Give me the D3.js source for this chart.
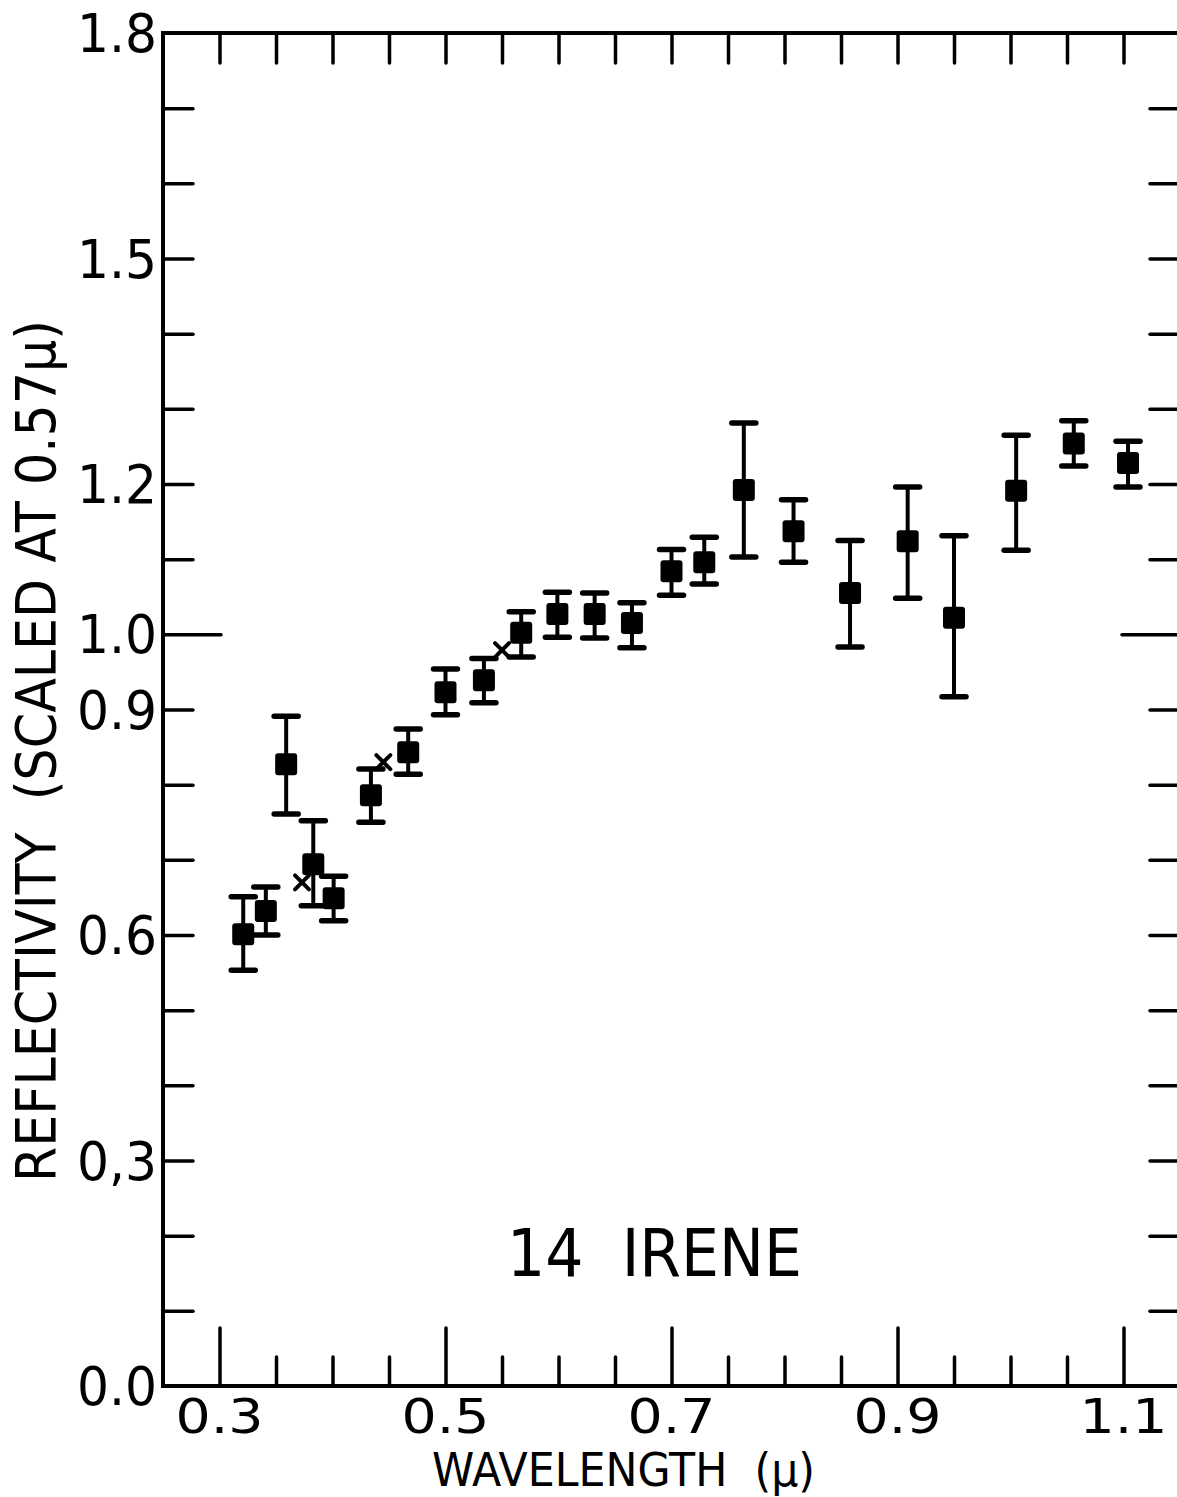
<!DOCTYPE html>
<html>
<head>
<meta charset="utf-8">
<script src="https://cdn.jsdelivr.net/npm/d3@7"></script>
<style>
  html, body { margin: 0; padding: 0; background: #fff; }
  svg { display: block; }
  text { font-family: "DejaVu Sans", sans-serif; fill: #000; white-space: pre; }
</style>
</head>
<body>
<script>
// ---- data ----
const wavelength   = [0.321, 0.341, 0.359, 0.383, 0.401, 0.434, 0.467, 0.500, 0.534, 0.567, 0.599, 0.632, 0.665, 0.700, 0.729, 0.764, 0.808, 0.858, 0.909, 0.950, 1.005, 1.056, 1.104];
const reflectivity = [0.601, 0.632, 0.827, 0.694, 0.649, 0.786, 0.843, 0.923, 0.939, 1.002, 1.027, 1.027, 1.015, 1.084, 1.096, 1.192, 1.137, 1.055, 1.124, 1.022, 1.191, 1.254, 1.228];
const errHigh      = [0.651, 0.664, 0.891, 0.752, 0.678, 0.821, 0.874, 0.954, 0.968, 1.030, 1.056, 1.055, 1.042, 1.113, 1.129, 1.281, 1.179, 1.125, 1.196, 1.131, 1.265, 1.284, 1.257];
const errLow       = [0.553, 0.600, 0.761, 0.639, 0.619, 0.750, 0.814, 0.893, 0.909, 0.970, 0.996, 0.995, 0.982, 1.052, 1.067, 1.103, 1.096, 0.983, 1.048, 0.917, 1.112, 1.224, 1.196];
const crossWavelength   = [0.373, 0.445, 0.550];
const crossReflectivity = [0.670, 0.830, 0.979];

const yTickValues = [1.8, 1.5, 1.2, 1.0, 0.9, 0.6, 0.3, 0.0];
const yTickLabels = ["1.8", "1.5", "1.2", "1.0", "0.9", "0.6", "0,3", "0.0"];
const xTickValues = [0.3, 0.5, 0.7, 0.9, 1.1];
const xTickLabels = ["0.3", "0.5", "0.7", "0.9", "1.1"];
const xMinorTicks = d3.range(0, 17).map(i => +(0.3 + i * 0.05).toFixed(3));
const yMinorTicks = d3.range(1, 18).map(i => +(i * 0.1).toFixed(2));

const chartTitle = "14  IRENE";
const xTitle = "WAVELENGTH  (\u03bc)";
const yTitle = "REFLECTIVITY  (SCALED AT 0.57\u03bc)";

// ---- layout ----
const W = 1177, H = 1497;
const mLeft = 163, mRight = 1180, mTop = 33, mBottom = 1386;

const x = d3.scaleLinear().domain([0.25, 1.15]).range([mLeft, mRight]);
const y = d3.scaleLinear().domain([0, 1.8]).range([mBottom, mTop]);

const svg = d3.select("body").append("svg").attr("width", W).attr("height", H);

// frame
svg.append("rect")
  .attr("x", mLeft).attr("y", mTop)
  .attr("width", mRight - mLeft).attr("height", mBottom - mTop)
  .attr("fill", "none").attr("stroke", "#000").attr("stroke-width", 4);

function styleAxis(g) {
  g.select(".domain").remove();
  g.selectAll(".tick line").attr("stroke", "#000").attr("stroke-width", 3.5).attr("stroke-linecap", "round");
  g.selectAll(".tick text").remove();
}

// left ticks (inward)
svg.append("g").attr("transform", `translate(${mLeft},0)`)
  .call(d3.axisRight(y).tickValues(yMinorTicks).tickSize(30).tickFormat(""))
  .call(styleAxis)
  .selectAll(".tick line").attr("x2", d => Math.abs(d - 1.0) < 1e-6 ? 58 : 30);

// right ticks (inward)
svg.append("g").attr("transform", `translate(${mRight},0)`)
  .call(d3.axisLeft(y).tickValues(yMinorTicks).tickSize(30).tickFormat(""))
  .call(styleAxis)
  .selectAll(".tick line").attr("x2", d => Math.abs(d - 1.0) < 1e-6 ? -58 : -30);

// top ticks (inward)
svg.append("g").attr("transform", `translate(0,${mTop})`)
  .call(d3.axisBottom(x).tickValues(xMinorTicks).tickSize(30).tickFormat(""))
  .call(styleAxis);

// bottom ticks (inward), long at labelled values
svg.append("g").attr("transform", `translate(0,${mBottom})`)
  .call(d3.axisTop(x).tickValues(xMinorTicks).tickSize(29).tickFormat(""))
  .call(styleAxis)
  .selectAll(".tick line")
  .attr("y2", d => xTickValues.some(v => Math.abs(v - d) < 1e-6) ? -58 : -29);

// y tick labels
svg.append("g").selectAll("text").data(yTickValues).join("text")
  .attr("x", 157).attr("y", d => y(d) + 19)
  .attr("text-anchor", "end")
  .attr("font-size", 53)
  .attr("textLength", 80).attr("lengthAdjust", "spacingAndGlyphs")
  .text((d, i) => yTickLabels[i]);

// x tick labels
svg.append("g").selectAll("text").data(xTickValues).join("text")
  .attr("x", d => x(d)).attr("y", 1433)
  .attr("text-anchor", "middle")
  .attr("font-size", 48)
  .attr("textLength", 88).attr("lengthAdjust", "spacingAndGlyphs")
  .text((d, i) => xTickLabels[i]);

// axis titles
svg.append("text")
  .attr("x", 432).attr("y", 1486)
  .attr("font-size", 46)
  .attr("textLength", 383).attr("lengthAdjust", "spacingAndGlyphs")
  .text(xTitle);

svg.append("text")
  .attr("transform", "translate(55,1182) rotate(-90)")
  .attr("font-size", 56)
  .attr("textLength", 862).attr("lengthAdjust", "spacingAndGlyphs")
  .text(yTitle);

// in-plot title
svg.append("text")
  .attr("x", 507).attr("y", 1276)
  .attr("font-size", 66)
  .attr("textLength", 295).attr("lengthAdjust", "spacingAndGlyphs")
  .text(chartTitle);

// data
const pts = wavelength.map((w, i) => ({ w, r: reflectivity[i], hi: errHigh[i], lo: errLow[i] }));

const eb = svg.append("g").attr("stroke", "#000").attr("stroke-linecap", "round");
eb.selectAll("line.v").data(pts).join("line").attr("class", "v")
  .attr("x1", d => x(d.w)).attr("x2", d => x(d.w))
  .attr("y1", d => y(d.hi)).attr("y2", d => y(d.lo))
  .attr("stroke-width", 4);
eb.selectAll("line.t").data(pts).join("line").attr("class", "t")
  .attr("x1", d => x(d.w) - 12).attr("x2", d => x(d.w) + 12)
  .attr("y1", d => y(d.hi)).attr("y2", d => y(d.hi))
  .attr("stroke-width", 5.5);
eb.selectAll("line.b").data(pts).join("line").attr("class", "b")
  .attr("x1", d => x(d.w) - 12).attr("x2", d => x(d.w) + 12)
  .attr("y1", d => y(d.lo)).attr("y2", d => y(d.lo))
  .attr("stroke-width", 5.5);

svg.append("g").selectAll("rect").data(pts).join("rect")
  .attr("x", d => x(d.w) - 11).attr("y", d => y(d.r) - 11)
  .attr("width", 22).attr("height", 22)
  .attr("rx", 3).attr("fill", "#000");

// crosses
const cr = crossWavelength.map((w, i) => ({ w, r: crossReflectivity[i] }));
const cg = svg.append("g").attr("stroke", "#000").attr("stroke-width", 4).attr("stroke-linecap", "round");
cg.selectAll("path").data(cr).join("path")
  .attr("d", d => {
    const cx = x(d.w), cy = y(d.r), s = 7;
    return `M${cx - s},${cy - s}L${cx + s},${cy + s}M${cx - s},${cy + s}L${cx + s},${cy - s}`;
  });
</script>
</body>
</html>
